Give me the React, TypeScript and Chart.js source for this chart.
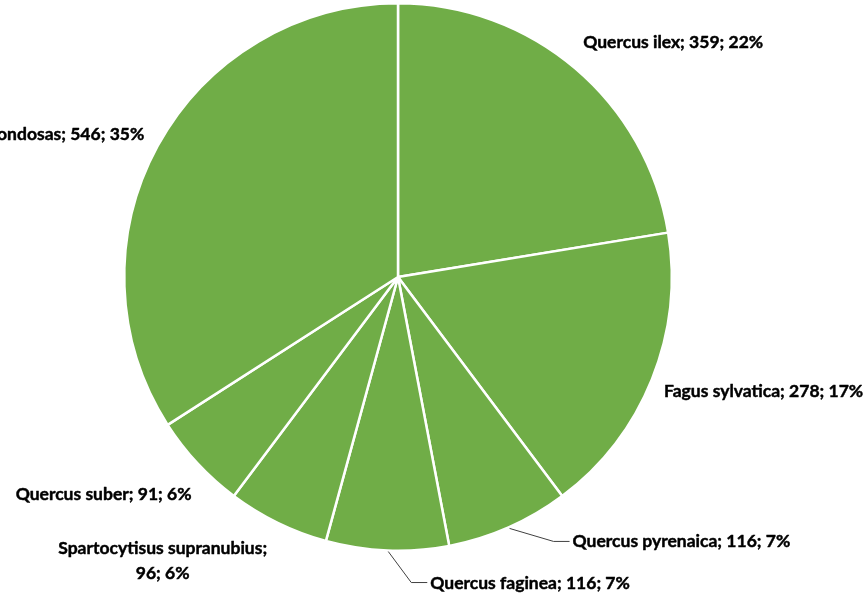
import React, { useEffect, useRef } from "react";
import { Chart, registerables } from "chart.js";

Chart.register(...registerables);

const categories = [
  "Quercus ilex",
  "Fagus sylvatica",
  "Quercus pyrenaica",
  "Quercus faginea",
  "Spartocytisus supranubius",
  "Quercus suber",
  "Otras frondosas",
];
const values = [359, 278, 116, 116, 96, 91, 546];
const percentLabels = ["22%", "17%", "7%", "7%", "6%", "6%", "35%"];

// label placement relative to the slice's outer mid point (style only)
const labelLayout = [
  { dx: 8, dy: -26, align: "left", leader: false, wrap: false },
  { dx: 12, dy: 12, align: "left", leader: false, wrap: false },
  { dx: 64, dy: 14, align: "left", leader: true, wrap: false },
  { dx: 43, dy: 32, align: "left", leader: true, wrap: false },
  { dx: -115, dy: 37.5, align: "center", leader: false, wrap: true },
  { dx: -6, dy: 31, align: "right", leader: false, wrap: false },
  { dx: -13.5, dy: -12, align: "right", leader: false, wrap: false },
];

const FONT = "bold 17.5px Lato";
const LINE_H = 25;
const CAP_HALF = 6;

const labelPlugin = {
  id: "outsideLabels",
  afterDraw(chart: any) {
    const ctx = chart.ctx as CanvasRenderingContext2D;
    const meta = chart.getDatasetMeta(0);
    ctx.save();
    ctx.font = FONT;
    meta.data.forEach((arc: any, i: number) => {
      const { x, y, startAngle, endAngle, outerRadius } = arc.getProps(
        ["x", "y", "startAngle", "endAngle", "outerRadius"],
        true
      );
      const mid = (startAngle + endAngle) / 2;
      const px = x + outerRadius * Math.cos(mid);
      const py = y + outerRadius * Math.sin(mid);
      const lay = labelLayout[i];
      const tx = px + lay.dx;
      const ty = py + lay.dy;
      const lines = lay.wrap
        ? [categories[i] + ";", values[i] + "; " + percentLabels[i]]
        : [categories[i] + "; " + values[i] + "; " + percentLabels[i]];
      if (lay.leader) {
        ctx.beginPath();
        ctx.strokeStyle = "#404040";
        ctx.lineWidth = 1;
        ctx.moveTo(px + 1, py + 1);
        ctx.lineTo(tx - 19, ty);
        ctx.lineTo(tx - 3, ty);
        ctx.stroke();
      }
      ctx.textAlign = lay.align as CanvasTextAlign;
      ctx.textBaseline = "alphabetic";
      ctx.fillStyle = "#000000";
      ctx.strokeStyle = "#000000";
      ctx.lineWidth = 0.45;
      ctx.lineJoin = "round";
      const top = ty - ((lines.length - 1) * LINE_H) / 2;
      lines.forEach((ln, k) => {
        const by = top + k * LINE_H + CAP_HALF;
        ctx.fillText(ln, tx, by);
        ctx.strokeText(ln, tx, by);
      });
    });
    ctx.restore();
  },
};

export default function App() {
  const ref = useRef<HTMLCanvasElement | null>(null);
  useEffect(() => {
    document.body.style.margin = "0";
    const canvas = ref.current;
    if (!canvas) return;
    const chart = new Chart(canvas, {
      type: "pie",
      data: {
        labels: categories,
        datasets: [
          {
            data: values,
            backgroundColor: "#70AD47",
            borderColor: "#FFFFFF",
            borderWidth: 2.5,
          },
        ],
      },
      options: {
        responsive: false,
        animation: false,
        layout: { padding: { left: 123, right: 194, top: 2, bottom: 42 } },
        plugins: {
          legend: { display: false },
          tooltip: { enabled: false },
          title: { display: false },
        },
      },
      plugins: [labelPlugin],
    });
    return () => chart.destroy();
  }, []);
  return (
    <div style={{ width: 867, height: 594, background: "#fff" }}>
      <canvas ref={ref} width={867} height={594} style={{ display: "block" }} />
    </div>
  );
}
